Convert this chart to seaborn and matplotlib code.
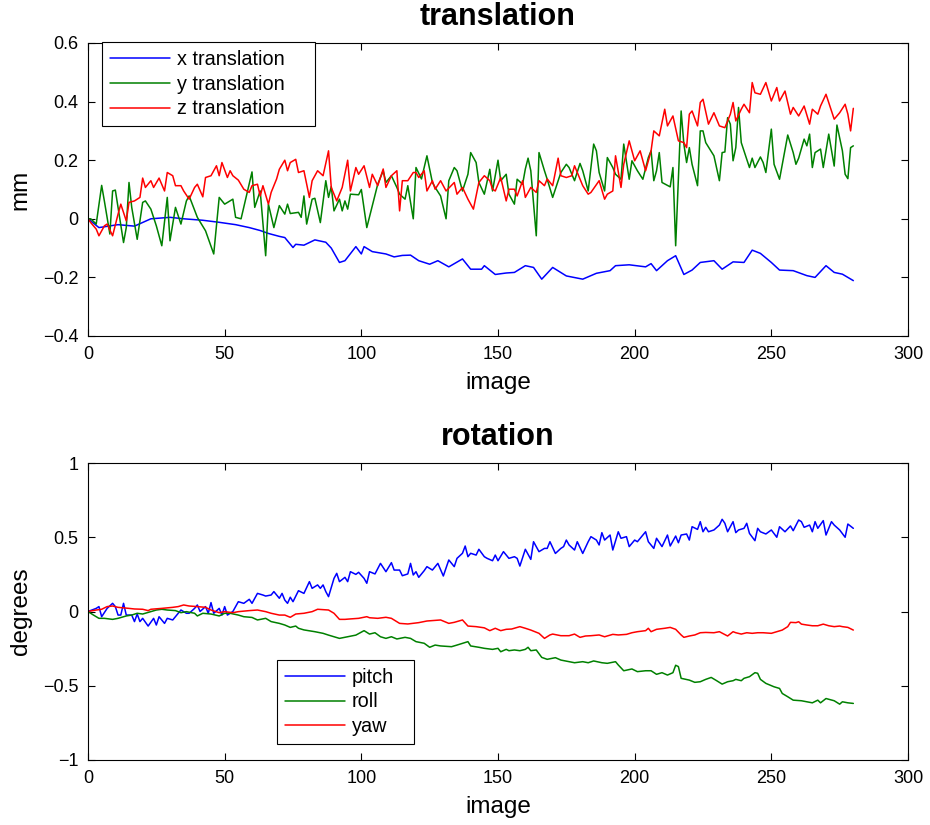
import matplotlib
matplotlib.use('Agg')
import matplotlib.pyplot as plt
import pandas as pd
import seaborn as sns

# (image, value) pairs
x_translation = [
    (0, 0), (4, -0.03), (11, -0.02), (17, -0.025), (23, 0.0), (30, 0.005), (35, 0.0), (42, -0.005),
    (48, -0.012), (54, -0.02), (59, -0.03), (63, -0.04), (66, -0.05), (70, -0.06), (72, -0.064),
    (75, -0.098), (76, -0.087), (79, -0.09), (83, -0.072), (87, -0.08), (89, -0.1), (92, -0.149),
    (94, -0.143), (98, -0.095), (100, -0.12), (101, -0.095), (104, -0.112), (109, -0.12), (112, -0.13),
    (115, -0.125), (118, -0.124), (121, -0.143), (125, -0.155), (128, -0.143), (132, -0.164),
    (137, -0.137), (140, -0.172), (144, -0.172), (145, -0.16), (149, -0.19), (153, -0.185),
    (156, -0.183), (160, -0.16), (163, -0.166), (166, -0.206), (170, -0.166), (175, -0.195),
    (181, -0.206), (186, -0.186), (191, -0.177), (193, -0.16), (198, -0.157), (204, -0.164),
    (206, -0.153), (208, -0.177), (212, -0.143), (215, -0.126), (218, -0.19), (221, -0.175),
    (224, -0.149), (229, -0.143), (232, -0.172), (236, -0.147), (240, -0.149), (243, -0.107),
    (246, -0.118), (250, -0.149), (253, -0.175), (258, -0.177), (263, -0.194), (266, -0.2),
    (270, -0.16), (273, -0.183), (276, -0.189), (280, -0.211),
]

y_translation = [
    (0, 0), (1, 0), (3, -0.018), (5, 0.114), (6, 0.06), (8, -0.052), (9, 0.095), (10, 0.098),
    (11, 0.039), (13, -0.081), (14, -0.03), (15, 0.124), (16, 0.039), (18, -0.07), (20, 0.056),
    (21, 0.061), (23, 0.033), (25, -0.024), (27, -0.092), (29, 0.073), (30, -0.075), (32, 0.039),
    (34, -0.018), (36, 0.061), (37, 0.078), (40, 0.005), (43, -0.041), (46, -0.12), (48, 0.073),
    (50, 0.05), (53, 0.067), (54, 0.005), (56, 0.0), (60, 0.16), (61, 0.039), (63, 0.095),
    (65, -0.126), (66, 0.05), (68, -0.03), (70, 0.045), (72, 0.016),
    (73, 0.05), (74, 0.018), (77, 0.022), (78, 0.005), (79, 0.078), (80, -0.018), (82, 0.067),
    (83, 0.07), (85, -0.013), (87, 0.13), (88, 0.073), (89, 0.11), (90, 0.027), (92, 0.067),
    (93, 0.027), (94, 0.061), (95, 0.033), (96, 0.084), (99, 0.082), (100, 0.1), (102, -0.03),
    (104, 0.044), (106, 0.118), (108, 0.164), (109, 0.124), (111, 0.147), (113, 0.107),
    (114, 0.084), (116, 0.067), (117, 0.113), (119, 0.0), (120, 0.175), (122, 0.136), (124, 0.215),
    (126, 0.124), (127, 0.107), (129, 0.078), (131, 0.0), (132, 0.13), (134, 0.175), (135, 0.164),
    (137, 0.095), (139, 0.152), (140, 0.226), (142, 0.192), (143, 0.124), (145, 0.084),
    (147, 0.169), (148, 0.095), (150, 0.2), (151, 0.13), (153, 0.152), (154, 0.084), (156, 0.05),
    (157, 0.135), (159, 0.118), (160, 0.17), (161, 0.207), (162, 0.164), (164, -0.058),
    (165, 0.226), (167, 0.164), (168, 0.135), (170, 0.073), (172, 0.13), (173, 0.158), (175, 0.186),
    (176, 0.175), (178, 0.13), (180, 0.189), (181, 0.164), (183, 0.095), (185, 0.255), (186, 0.232),
    (187, 0.158), (189, 0.095), (190, 0.209), (192, 0.175), (193, 0.152), (195, 0.135),
    (196, 0.255), (198, 0.135), (199, 0.198), (201, 0.164), (203, 0.135), (205, 0.209),
    (206, 0.232), (207, 0.13), (208, 0.164), (209, 0.226), (210, 0.124), (213, 0.109),
    (214, 0.175), (215, -0.092), (217, 0.368), (218, 0.255), (219, 0.192), (220, 0.243),
    (221, 0.186), (223, 0.113), (224, 0.3), (225, 0.3), (226, 0.26), (229, 0.215), (231, 0.13),
    (232, 0.226), (233, 0.228), (234, 0.345), (235, 0.323), (236, 0.198), (237, 0.243), (238, 0.38),
    (239, 0.26), (242, 0.175), (243, 0.207), (244, 0.175), (246, 0.211), (247, 0.192), (248, 0.158),
    (250, 0.306), (251, 0.186), (253, 0.135), (256, 0.286), (258, 0.226), (259, 0.186),
    (260, 0.207), (262, 0.272), (263, 0.249), (264, 0.289), (265, 0.175), (266, 0.226),
    (268, 0.238), (269, 0.175), (271, 0.289), (273, 0.18), (274, 0.32), (276, 0.232), (277, 0.152),
    (278, 0.137), (279, 0.243), (280, 0.249),
]

z_translation = [
    (0, 0), (1, -0.013), (3, -0.035), (4, -0.058), (6, -0.024), (7, -0.018), (9, -0.058),
    (11, 0.016), (12, 0.05), (14, -0.007), (15, 0.056), (17, 0.061), (19, 0.073), (20, 0.139),
    (21, 0.107), (23, 0.13), (24, 0.107), (26, 0.139), (28, 0.095), (29, 0.158), (31, 0.147),
    (32, 0.113), (34, 0.113), (35, 0.095), (37, 0.067), (39, 0.107), (40, 0.118), (42, 0.075),
    (43, 0.141), (45, 0.147), (47, 0.181), (48, 0.147), (49, 0.192), (51, 0.141), (52, 0.164),
    (53, 0.147), (55, 0.132), (57, 0.101), (59, 0.09), (60, 0.113), (62, 0.118), (63, 0.078),
    (64, 0.113), (66, 0.05), (67, 0.09), (69, 0.136), (70, 0.169), (72, 0.2),
    (73, 0.164), (74, 0.192), (76, 0.203), (77, 0.158), (79, 0.164), (81, 0.073), (82, 0.13),
    (84, 0.164), (86, 0.147), (88, 0.232), (89, 0.107), (91, 0.061), (93, 0.107), (95, 0.2),
    (96, 0.095), (98, 0.175), (99, 0.152), (101, 0.181), (103, 0.107), (104, 0.152), (106, 0.113),
    (108, 0.17), (109, 0.107), (111, 0.147), (113, 0.164), (114, 0.027), (115, 0.13), (117, 0.13),
    (119, 0.158), (120, 0.158), (121, 0.141), (123, 0.164), (124, 0.095), (126, 0.13),
    (127, 0.101), (129, 0.13), (131, 0.095), (134, 0.124), (135, 0.084), (137, 0.107),
    (139, 0.067), (141, 0.033), (143, 0.124), (145, 0.147), (147, 0.13),
    (148, 0.101), (149, 0.095), (151, 0.141), (153, 0.061), (154, 0.101), (156, 0.101),
    (157, 0.078), (159, 0.13), (160, 0.073), (162, 0.107), (164, 0.09), (165, 0.13), (167, 0.113),
    (168, 0.136), (170, 0.113), (172, 0.207), (173, 0.147), (175, 0.141), (177, 0.147),
    (178, 0.181), (181, 0.113), (183, 0.084), (184, 0.09), (187, 0.13), (189, 0.067), (190, 0.084),
    (192, 0.095), (193, 0.215), (195, 0.107), (196, 0.186), (198, 0.266), (200, 0.198),
    (202, 0.232), (204, 0.164), (206, 0.232), (207, 0.3), (209, 0.283), (211, 0.374), (212, 0.317),
    (214, 0.351), (216, 0.266), (218, 0.26), (219, 0.243), (220, 0.357), (221, 0.368),
    (223, 0.317), (224, 0.397), (225, 0.408), (227, 0.323), (229, 0.362), (231, 0.317),
    (233, 0.311), (235, 0.357), (236, 0.397), (237, 0.334), (239, 0.374), (240, 0.391),
    (242, 0.362), (243, 0.465), (244, 0.43), (246, 0.425), (248, 0.465), (250, 0.402),
    (252, 0.448), (253, 0.402), (255, 0.436), (257, 0.357), (258, 0.38), (260, 0.351),
    (262, 0.385), (264, 0.323), (265, 0.374), (267, 0.357), (268, 0.385), (270, 0.425),
    (273, 0.34), (275, 0.362), (277, 0.391), (278, 0.357), (279, 0.3), (280, 0.377),
]

pitch = [
    (0, 0), (3, 0.021), (4, 0.033), (5, -0.035), (7, 0.021), (9, 0.055), (10, 0.033), (11, -0.024),
    (12, -0.024), (13, 0.055), (14, -0.024), (16, -0.024), (17, -0.068), (18, -0.017),
    (19, -0.068), (20, -0.046), (22, -0.098), (24, -0.046), (25, -0.091), (26, -0.035),
    (28, -0.08), (29, -0.046), (31, -0.057), (33, -0.012), (34, 0.01), (36, -0.012), (37, -0.012),
    (39, 0.021), (40, 0.044), (41, 0.0), (43, 0.033), (44, -0.012), (45, 0.06), (46, -0.012),
    (48, 0.021), (49, -0.024), (50, 0.033), (51, -0.024), (53, 0.0), (54, 0.033), (55, 0.066),
    (57, 0.055), (59, 0.082), (60, 0.055), (62, 0.122), (64, 0.111), (65, 0.104), (67, 0.111),
    (68, 0.134), (70, 0.089), (71, 0.122),
    (72, 0.077), (73, 0.055), (74, 0.096), (75, 0.066), (77, 0.14), (79, 0.122), (81, 0.201),
    (82, 0.156), (84, 0.179), (85, 0.156), (86, 0.179), (87, 0.134), (88, 0.1), (90, 0.223),
    (91, 0.257), (92, 0.201), (94, 0.23), (95, 0.201), (96, 0.268), (98, 0.25), (99, 0.264),
    (101, 0.223), (102, 0.19), (103, 0.268), (105, 0.253), (107, 0.324), (109, 0.268),
    (111, 0.329), (112, 0.279), (114, 0.279), (115, 0.241), (117, 0.253), (118, 0.324),
    (119, 0.246), (120, 0.268), (121, 0.23), (123, 0.275), (124, 0.302), (126, 0.279),
    (128, 0.324), (130, 0.239), (132, 0.347), (134, 0.302), (135, 0.358), (137, 0.392),
    (138, 0.441), (139, 0.369), (140, 0.392), (142, 0.38), (143, 0.419),
    (145, 0.369), (146, 0.358), (148, 0.342), (149, 0.38), (150, 0.342), (152, 0.403), (154, 0.358),
    (156, 0.369), (157, 0.358), (158, 0.306), (160, 0.419), (162, 0.351), (163, 0.47), (165, 0.403),
    (167, 0.425), (168, 0.425), (169, 0.47), (171, 0.391), (173, 0.425), (174, 0.437), (175, 0.481),
    (176, 0.448), (178, 0.414), (179, 0.47), (181, 0.391), (183, 0.47), (184, 0.504), (186, 0.481),
    (187, 0.448), (188, 0.531), (189, 0.481), (191, 0.515), (192, 0.414), (194, 0.537),
    (195, 0.493), (197, 0.504), (198, 0.437), (200, 0.481), (201, 0.47), (204, 0.537), (205, 0.47),
    (207, 0.425), (208, 0.493), (210, 0.437), (212, 0.515),
    (213, 0.441), (215, 0.508), (216, 0.463), (217, 0.515), (219, 0.522), (220, 0.481),
    (221, 0.571), (223, 0.553), (224, 0.605), (225, 0.537), (226, 0.567), (227, 0.537),
    (229, 0.549), (231, 0.582), (232, 0.621), (233, 0.594), (234, 0.537), (236, 0.605),
    (237, 0.531), (238, 0.549), (240, 0.56), (241, 0.594), (242, 0.526), (244, 0.477), (245, 0.56),
    (246, 0.537), (248, 0.522), (250, 0.549), (252, 0.5), (253, 0.571), (255, 0.537), (257, 0.576),
    (258, 0.544), (260, 0.616), (261, 0.605), (262, 0.567), (264, 0.582), (265, 0.537),
    (266, 0.605), (267, 0.56), (269, 0.612), (270, 0.515), (272, 0.605), (273, 0.582),
    (275, 0.549), (277, 0.5), (278, 0.589), (280, 0.56),
]

roll = [
    (0, 0), (2, -0.024), (4, -0.046), (6, -0.046), (9, -0.053), (11, -0.046), (14, -0.03),
    (16, -0.024), (18, -0.012), (20, -0.017), (23, -0.001), (25, 0.01), (27, 0.015), (29, 0.01),
    (32, 0.006), (34, -0.008), (36, -0.001), (39, -0.012), (40, -0.03), (42, -0.012), (45, -0.017),
    (48, -0.03), (50, -0.012), (52, -0.012), (55, -0.024), (57, -0.035), (60, -0.04), (62, -0.057),
    (65, -0.046), (67, -0.068), (70, -0.08), (72, -0.091), (74, -0.107), (76, -0.098),
    (77, -0.113), (79, -0.124), (83, -0.136), (86, -0.147), (88, -0.159), (92, -0.181),
    (95, -0.17), (98, -0.159), (101, -0.129), (103, -0.152), (105, -0.143), (107, -0.17),
    (109, -0.181), (111, -0.17), (113, -0.185), (116, -0.174), (118, -0.181), (120, -0.203),
    (123, -0.214), (125, -0.241), (127, -0.226), (129, -0.232), (133, -0.237), (135, -0.226),
    (139, -0.203), (140, -0.232), (143, -0.241), (145, -0.248), (148, -0.255), (150, -0.248),
    (151, -0.271), (153, -0.255), (154, -0.264), (156, -0.259), (158, -0.264), (160, -0.255),
    (161, -0.241), (162, -0.264), (164, -0.259), (166, -0.309), (168, -0.322), (171, -0.311),
    (173, -0.327), (176, -0.338), (178, -0.345), (181, -0.338), (183, -0.345), (185, -0.333),
    (188, -0.345), (190, -0.349), (193, -0.338), (194, -0.36), (196, -0.399), (199, -0.387),
    (201, -0.405), (204, -0.399), (206, -0.399), (208, -0.423), (210, -0.412), (212, -0.428),
    (214, -0.412), (215, -0.362), (216, -0.371), (217, -0.45), (220, -0.462), (222, -0.477),
    (224, -0.473), (226, -0.457), (228, -0.444), (230, -0.466), (232, -0.489), (234, -0.473),
    (236, -0.466), (237, -0.457), (239, -0.466), (240, -0.45), (242, -0.439), (244, -0.412),
    (245, -0.416), (246, -0.457), (248, -0.484), (251, -0.507), (253, -0.518), (254, -0.552),
    (256, -0.574), (258, -0.597), (261, -0.601), (263, -0.608), (265, -0.615), (267, -0.597),
    (268, -0.615), (270, -0.586), (273, -0.601), (275, -0.624), (276, -0.608), (278, -0.615),
    (280, -0.619),
]

yaw = [
    (0, 0), (3, 0.01), (5, 0.015), (7, 0.033), (9, 0.037), (11, 0.028), (15, 0.021), (17, 0.017),
    (20, 0.015), (22, 0.006), (23, 0.015), (27, 0.021), (31, 0.028), (33, 0.033), (35, 0.044),
    (37, 0.037), (40, 0.033), (43, 0.028), (45, 0.01), (48, -0.008), (50, -0.001), (53, -0.008),
    (55, -0.001), (59, 0.006), (62, 0.01), (65, -0.001), (67, -0.012), (70, -0.024),
    (72, -0.024), (74, -0.039), (76, -0.017), (79, -0.012), (82, -0.001), (84, 0.015), (88, 0.01),
    (90, -0.012), (92, -0.053), (94, -0.053), (96, -0.05), (99, -0.046), (102, -0.035),
    (103, -0.042), (106, -0.046), (109, -0.039), (111, -0.046), (114, -0.08), (117, -0.084),
    (121, -0.075), (124, -0.064), (129, -0.057), (132, -0.08), (134, -0.073), (137, -0.057),
    (139, -0.098), (142, -0.102), (145, -0.11), (147, -0.129), (149, -0.113), (151, -0.129),
    (153, -0.12), (155, -0.118), (158, -0.102), (160, -0.113), (162, -0.125), (165, -0.147),
    (167, -0.181), (169, -0.158), (170, -0.152), (173, -0.163), (176, -0.163), (178, -0.152),
    (180, -0.174), (182, -0.165), (184, -0.163), (187, -0.158), (189, -0.17), (192, -0.154),
    (194, -0.158), (197, -0.154), (199, -0.143), (201, -0.136), (204, -0.129), (205, -0.113),
    (206, -0.136), (208, -0.12), (211, -0.113), (213, -0.107), (215, -0.12), (217, -0.158),
    (218, -0.174), (220, -0.165), (222, -0.158), (224, -0.143), (226, -0.141), (229, -0.143),
    (231, -0.136), (234, -0.165), (236, -0.136), (237, -0.143), (239, -0.152), (241, -0.143),
    (243, -0.147), (245, -0.143), (247, -0.143), (250, -0.147), (252, -0.136), (254, -0.125),
    (256, -0.102), (257, -0.073), (259, -0.075), (260, -0.069), (261, -0.085), (263, -0.091),
    (265, -0.096), (267, -0.096), (269, -0.085), (271, -0.096), (273, -0.102), (275, -0.098),
    (276, -0.102), (278, -0.107), (280, -0.125),
]

trans_labels = ['x translation', 'y translation', 'z translation']
rot_labels = ['pitch', 'roll', 'yaw']
line_colors = ['#0000ff', '#008000', '#ff0000']

image_ticks = [0, 50, 100, 150, 200, 250, 300]
trans_yticks = [-0.4, -0.2, 0, 0.2, 0.4, 0.6]
trans_yticklabels = ['\u22120.4', '\u22120.2', '0', '0.2', '0.4', '0.6']
rot_yticks = [-1, -0.5, 0, 0.5, 1]
rot_yticklabels = ['\u22121', '\u22120.5', '0', '0.5', '1']


def to_frame(pairs):
    return pd.DataFrame(pairs, columns=['image', 'value'])


sns.set_style('ticks')
plt.rcParams['font.family'] = ['Liberation Sans', 'DejaVu Sans']
plt.rcParams['text.color'] = 'black'
plt.rcParams['axes.labelcolor'] = 'black'
plt.rcParams['axes.linewidth'] = 0.8

fig = plt.figure(figsize=(9.3, 8.25), dpi=100)
ax_t = fig.add_axes([88 / 930, 1 - 336 / 825, 820 / 930, 293 / 825])
ax_r = fig.add_axes([88 / 930, 1 - 760 / 825, 820 / 930, 297 / 825])

for series, label, color in zip([x_translation, y_translation, z_translation], trans_labels, line_colors):
    sns.lineplot(data=to_frame(series), x='image', y='value', color=color, linewidth=1.1,
                 estimator=None, label=label, legend=False, ax=ax_t)

for series, label, color in zip([pitch, roll, yaw], rot_labels, line_colors):
    sns.lineplot(data=to_frame(series), x='image', y='value', color=color, linewidth=1.1,
                 estimator=None, label=label, legend=False, ax=ax_r)


def style_axes(ax, title, ylabel, yticks, yticklabels, ylim):
    ax.set_xlim(0, 300)
    ax.set_ylim(*ylim)
    ax.set_xticks(image_ticks)
    ax.set_xticklabels([str(t) for t in image_ticks])
    ax.set_yticks(yticks)
    ax.set_yticklabels(yticklabels)
    ax.tick_params(direction='in', top=True, right=True, length=5, width=0.8,
                   labelsize=13, colors='black', pad=7)
    for sp in ax.spines.values():
        sp.set_visible(True)
        sp.set_color('black')
    ax.set_title(title, fontsize=22, fontweight='bold', pad=13, color='black')
    ax.set_xlabel('image', fontsize=17.5, labelpad=7)
    ax.set_ylabel(ylabel, fontsize=17.5, labelpad=8)


style_axes(ax_t, 'translation', 'mm', trans_yticks, trans_yticklabels, (-0.4, 0.6))
style_axes(ax_r, 'rotation', 'degrees', rot_yticks, rot_yticklabels, (-1, 1))

leg_kw = dict(fontsize=14.3, frameon=True, fancybox=False, framealpha=1, edgecolor='black',
              handlelength=3.05, handletextpad=0.35, labelspacing=0.3, borderpad=0.38,
              borderaxespad=0, mode='expand')
leg_t = ax_t.legend(loc='upper left', bbox_to_anchor=(0.0171, 0.0, 0.26, 1.0034), **leg_kw)
leg_r = ax_r.legend(loc='lower left', bbox_to_anchor=(0.2305, 0.0539, 0.167, 0.5), **leg_kw)
for leg in (leg_t, leg_r):
    leg.get_frame().set_linewidth(0.8)

fig.savefig('out.png', dpi=100)
